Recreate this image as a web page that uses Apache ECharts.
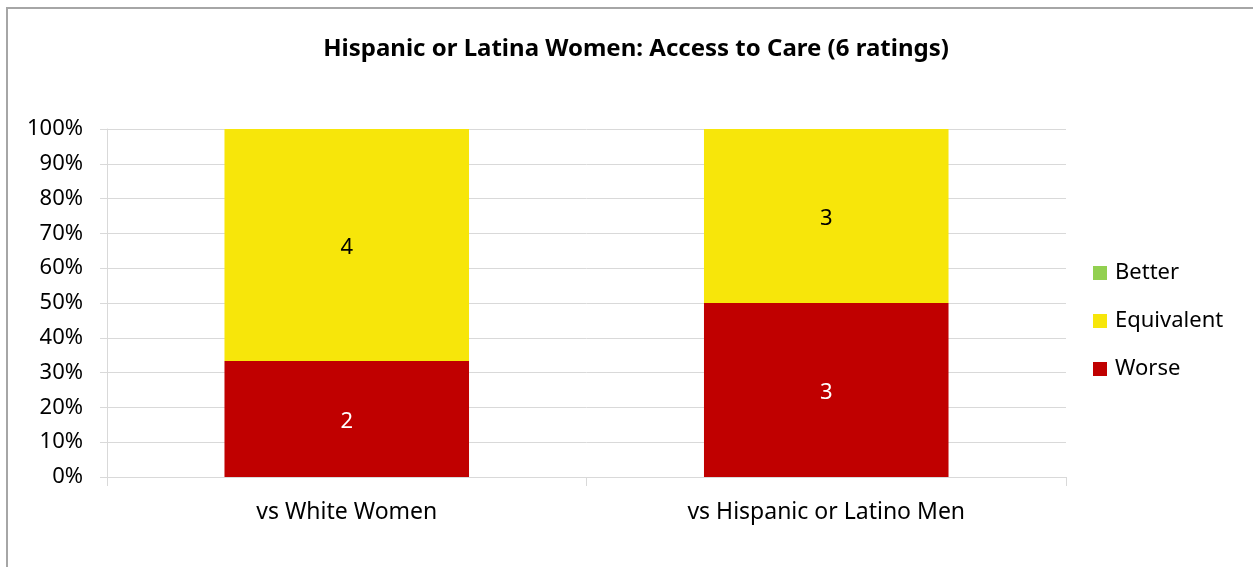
<!DOCTYPE html>
<html>
<head>
<meta charset="utf-8">
<script src="https://cdn.jsdelivr.net/npm/echarts@6/dist/echarts.min.js"></script>
<style>
html,body{margin:0;padding:0;background:#fff;overflow:hidden;}
#frame{position:absolute;left:6px;top:7px;width:1260px;height:580px;border:2px solid #a6a6a6;box-sizing:border-box;}
#chart{position:absolute;left:0;top:0;width:1253px;height:567px;}
</style>
</head>
<body>
<div id="frame"></div>
<div id="chart"></div>
<script>
const categories = ['vs White Women', 'vs Hispanic or Latino Men'];
const worse = [2, 3];
const equivalent = [4, 3];
const better = [0, 0];
const yTicks = ['0%','10%','20%','30%','40%','50%','60%','70%','80%','90%','100%'];

const totals = categories.map((c, i) => worse[i] + equivalent[i] + better[i]);
const share = (arr) => arr.map((v, i) => ({ value: v / totals[i] * 100, count: v }));

const FONT = '"Noto Sans", "Open Sans", sans-serif';
const chart = echarts.init(document.getElementById('chart'));
const lbl = (color) => ({
  show: true, position: 'inside', offset: [0, 3], color: color, fontSize: 22, fontFamily: FONT,
  formatter: p => p.data.count > 0 ? String(p.data.count) : ''
});
chart.setOption({
  animation: false,
  textStyle: { fontFamily: FONT },
  title: {
    text: 'Hispanic or Latina Women: Access to Care (6 ratings)',
    left: 631, textAlign: 'center', top: 32,
    textStyle: { fontSize: 24, fontWeight: 'bold', color: '#000', fontFamily: FONT }
  },
  legend: {
    orient: 'vertical', left: 1088, top: 253, itemGap: 18,
    itemWidth: 14, itemHeight: 14, icon: 'rect',
    data: ['Better', 'Equivalent', 'Worse'],
    textStyle: { fontSize: 22, color: '#000', fontFamily: FONT, lineHeight: 30, padding: [0, 0, 0, 3] }
  },
  grid: { left: 107, right: 187, top: 129, bottom: 90, containLabel: false },
  xAxis: {
    type: 'category', data: categories,
    axisLine: { show: true, lineStyle: { color: '#d9d9d9', width: 1 } },
    axisTick: { show: true, length: 9, lineStyle: { color: '#d9d9d9' } },
    axisLabel: { color: '#000', fontSize: 23, margin: 24, fontFamily: FONT }
  },
  yAxis: {
    type: 'value', min: 0, max: 100, interval: 10,
    axisLine: { show: true, lineStyle: { color: '#d9d9d9', width: 1 } },
    axisTick: { show: true, length: 7, lineStyle: { color: '#d9d9d9' } },
    splitLine: { show: true, lineStyle: { color: '#d9d9d9', width: 1 } },
    axisLabel: { color: '#000', fontSize: 22, margin: 24, fontFamily: FONT,
      formatter: v => yTicks[Math.round(v / 10)] }
  },
  series: [
    { name: 'Worse', type: 'bar', stack: 'a', barWidth: '51%', data: share(worse),
      itemStyle: { color: '#C00000' }, label: lbl('#fff') },
    { name: 'Equivalent', type: 'bar', stack: 'a', data: share(equivalent),
      itemStyle: { color: '#F7E60A' }, label: lbl('#000') },
    { name: 'Better', type: 'bar', stack: 'a', data: share(better),
      itemStyle: { color: '#92D050' }, label: lbl('#000') }
  ]
});
</script>
</body>
</html>
